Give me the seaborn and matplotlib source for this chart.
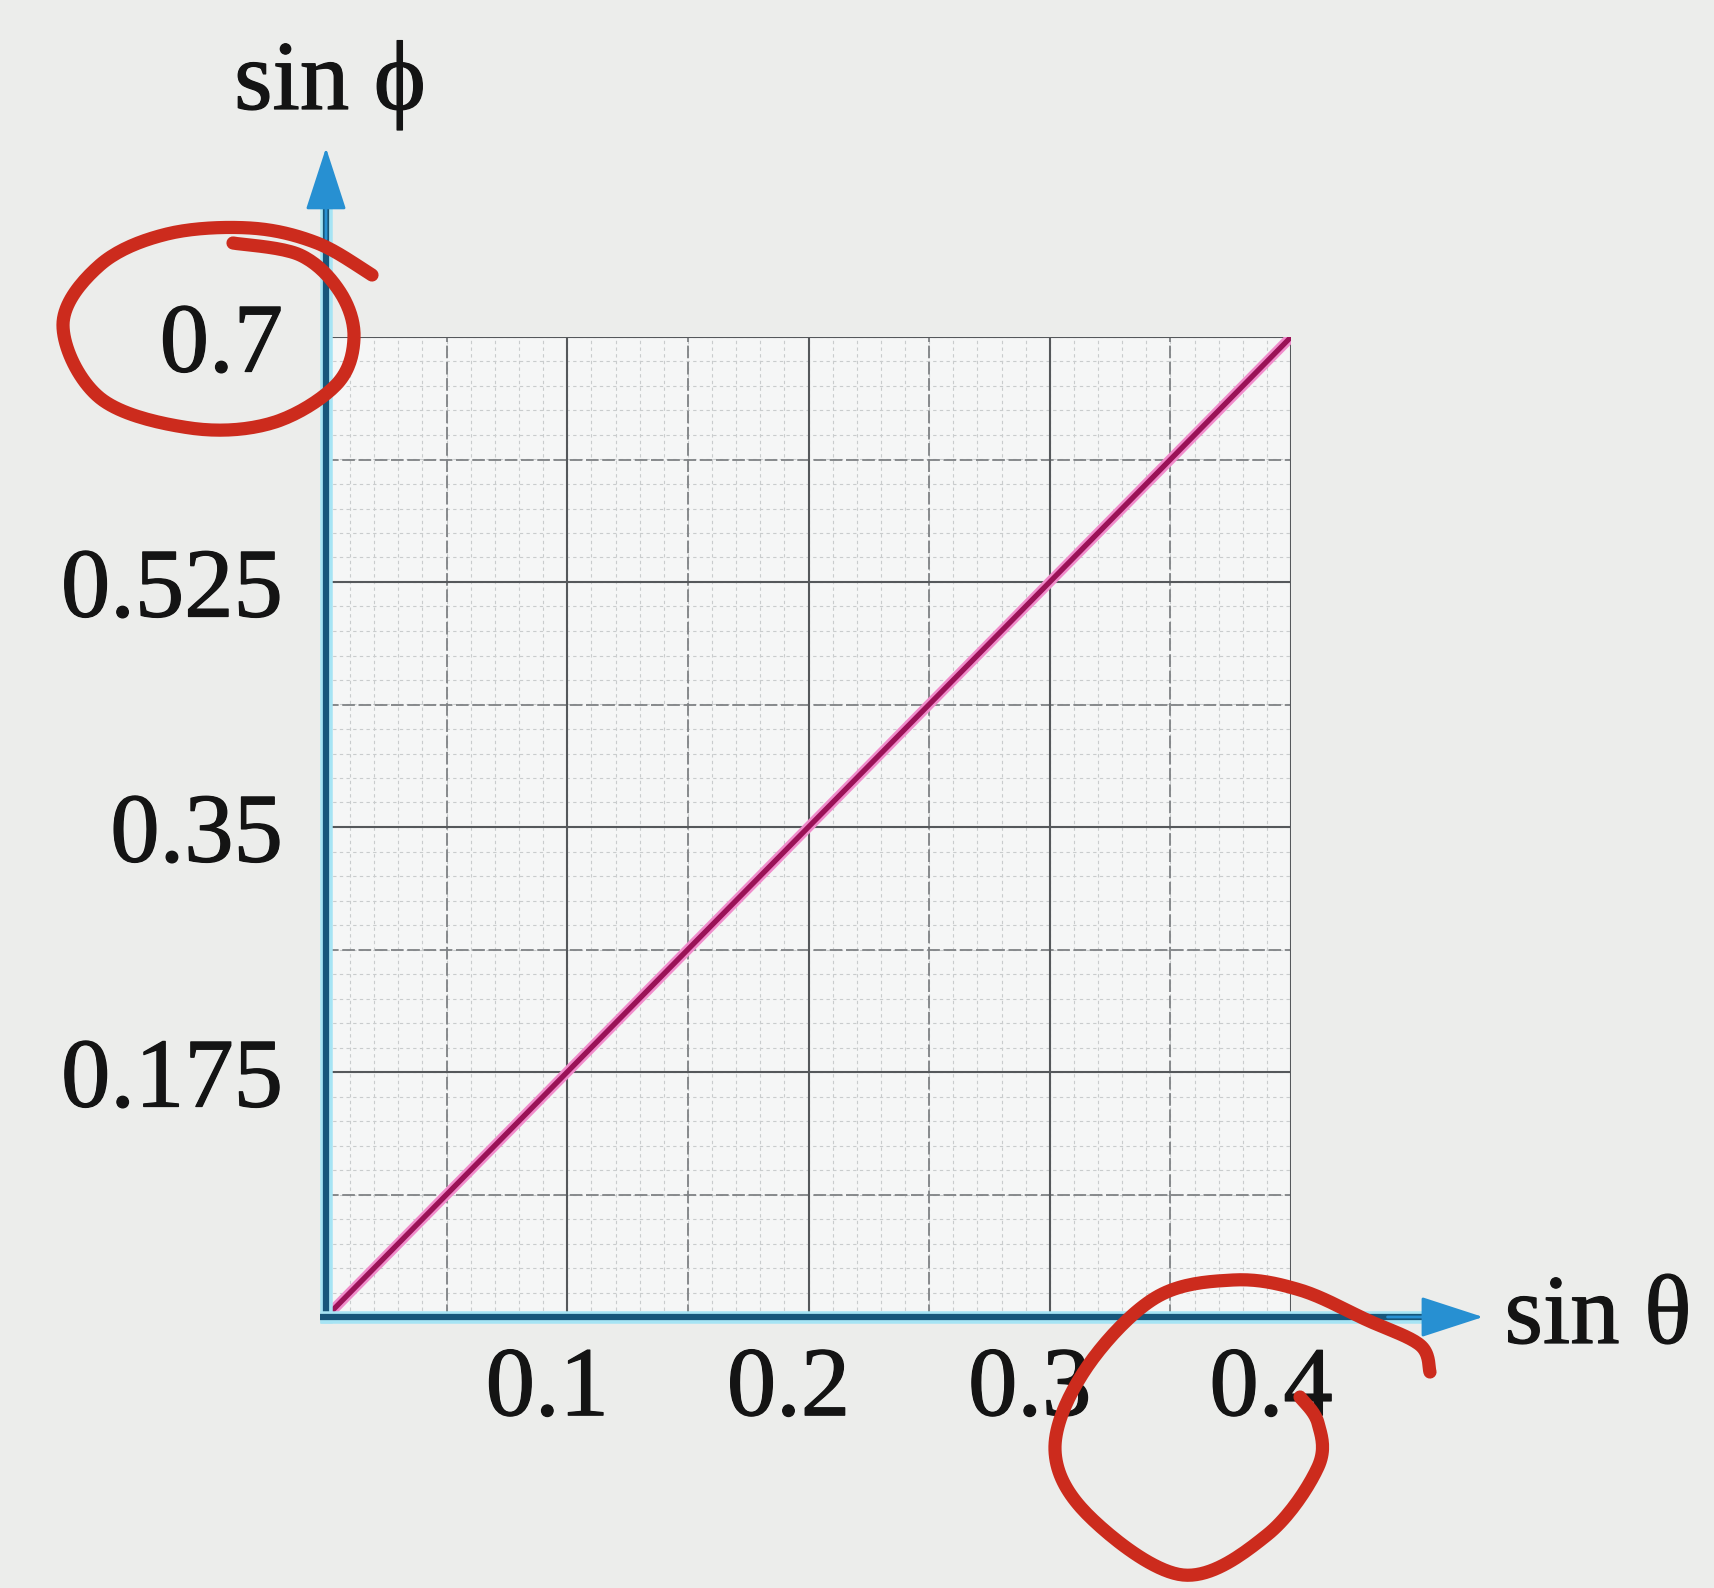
import numpy as np
import matplotlib
matplotlib.use("Agg")
import matplotlib.pyplot as plt
import matplotlib.patheffects as pe
import matplotlib.transforms as mtransforms
from matplotlib.lines import Line2D
import seaborn as sns

# Measured relation between the two sines
sin_theta = [0.0, 0.1, 0.2, 0.3, 0.4]
sin_phi = [0.0, 0.175, 0.35, 0.525, 0.7]

x_ticks = [0.1, 0.2, 0.3, 0.4]
x_tick_labels = ["0.1", "0.2", "0.3", "0.4"]
y_ticks = [0.175, 0.35, 0.525, 0.7]
y_tick_labels = ["0.175", "0.35", "0.525", "0.7"]

sns.set_theme(style="white")
plt.rcParams["font.family"] = ["Liberation Serif", "DejaVu Serif"]

W, H = 1715, 1588
FS = 71
INK = "#141414"
thick = [pe.Stroke(linewidth=0.9, foreground=INK), pe.Normal()]

fig = plt.figure(figsize=(W / 100, H / 100), dpi=100, facecolor="#ecedeb")
ax = fig.add_axes([326 / W, 1 - 1317 / H, (1291 - 326) / W, (1317 - 337) / H])
ax.set_facecolor("#f5f6f6")
ax.set_xlim(0, 0.4)
ax.set_ylim(0, 0.7)
for s in ax.spines.values():
    s.set_visible(False)

# graph-paper grid
def grid(step_x, step_y, color, lw, ls, z):
    xs = np.arange(0, 0.4 + 1e-9, step_x)
    ys = np.arange(0, 0.7 + 1e-9, step_y)
    ax.vlines(xs, 0, 0.7, colors=color, linewidth=lw, linestyles=ls, zorder=z)
    ax.hlines(ys, 0, 0.4, colors=color, linewidth=lw, linestyles=ls, zorder=z)

grid(0.01, 0.0175, "#c9cccd", 0.8, (0, (3, 3)), 1)
grid(0.05, 0.0875, "#7f8285", 1.3, (0, (7, 2)), 2)
grid(0.1, 0.175, "#55585b", 1.5, "-", 3)

# data line
sns.lineplot(x=sin_theta, y=sin_phi, ax=ax, color="#9a1257", linewidth=3.8,
             zorder=6,
             path_effects=[pe.Stroke(linewidth=7.5, foreground="#f08ccb"), pe.Normal()])

# ticks and labels
ax.set_xticks(x_ticks, x_tick_labels)
ax.set_yticks(y_ticks, y_tick_labels)
ax.tick_params(axis="both", length=0, labelsize=FS, colors=INK)
ax.tick_params(axis="x", pad=21)
ax.tick_params(axis="y", pad=31)
shift = mtransforms.ScaledTranslation(-20 / 100, 0, fig.dpi_scale_trans)
for lab in ax.get_xticklabels():
    lab.set_transform(lab.get_transform() + shift)
for lab in ax.get_xticklabels() + ax.get_yticklabels():
    lab.set_path_effects(thick)

# axes with arrowheads
halo = [pe.Stroke(linewidth=9, foreground="#a6e4f4"), pe.Normal()]
for xs_, ys_ in [([0, 0], [-0.006, 1.14]), ([-0.006, 1.14], [0, 0])]:
    ax.add_line(Line2D(xs_, ys_, transform=ax.transAxes, color="#17567a",
                       linewidth=4.5, clip_on=False, zorder=7,
                       solid_capstyle="butt", path_effects=halo))
head = dict(arrowstyle="-|>,head_length=0.4,head_width=0.13", mutation_scale=100,
            color="#2790d2", lw=2, shrinkA=0, shrinkB=0)
ax.annotate("", xy=(0, 1.193), xytext=(0, 1.10), xycoords="axes fraction",
            textcoords="axes fraction", arrowprops=head, zorder=8)
ax.annotate("", xy=(1.199, 0), xytext=(1.10, 0), xycoords="axes fraction",
            textcoords="axes fraction", arrowprops=head, zorder=8)

fig.text(330 / W, 1 - 109 / H, "sin \u03d5", ha="center", va="baseline",
         fontsize=FS, color=INK, path_effects=thick)
fig.text(1598 / W, 1 - 1343 / H, "sin \u03b8", ha="center", va="baseline",
         fontsize=FS, color=INK, path_effects=thick)

# hand-drawn red marks around two tick labels
def catmull(pts, n=20):
    p = np.asarray(pts, float)
    p = np.vstack([p[0], p, p[-1]])
    out = []
    for i in range(1, len(p) - 2):
        p0, p1, p2, p3 = p[i - 1], p[i], p[i + 1], p[i + 2]
        for t in np.linspace(0, 1, n, endpoint=False):
            t2, t3 = t * t, t * t * t
            out.append(0.5 * ((2 * p1) + (-p0 + p2) * t +
                              (2 * p0 - 5 * p1 + 4 * p2 - p3) * t2 +
                              (-p0 + 3 * p1 - 3 * p2 + p3) * t3))
    out.append(p[-2])
    return np.array(out)

marks = [
    [(233, 243), (300, 255), (340, 292), (354, 338), (336, 385), (272, 423),
     (190, 428), (100, 398), (63, 325), (100, 265), (167, 234), (250, 228),
     (317, 243), (372, 275)],
    [(1430, 1372), (1420, 1345), (1367, 1320), (1300, 1290), (1233, 1280),
     (1155, 1298), (1085, 1370), (1055, 1450), (1090, 1517), (1183, 1575),
     (1267, 1535), (1318, 1467), (1318, 1423), (1300, 1397)],
]
for m in marks:
    c = catmull(m)
    fig.add_artist(Line2D(c[:, 0] / W, 1 - c[:, 1] / H, transform=fig.transFigure,
                          color="#cc2b1d", linewidth=9.5, solid_capstyle="round",
                          solid_joinstyle="round", zorder=20))

fig.savefig("out.png", dpi=100, facecolor=fig.get_facecolor())
